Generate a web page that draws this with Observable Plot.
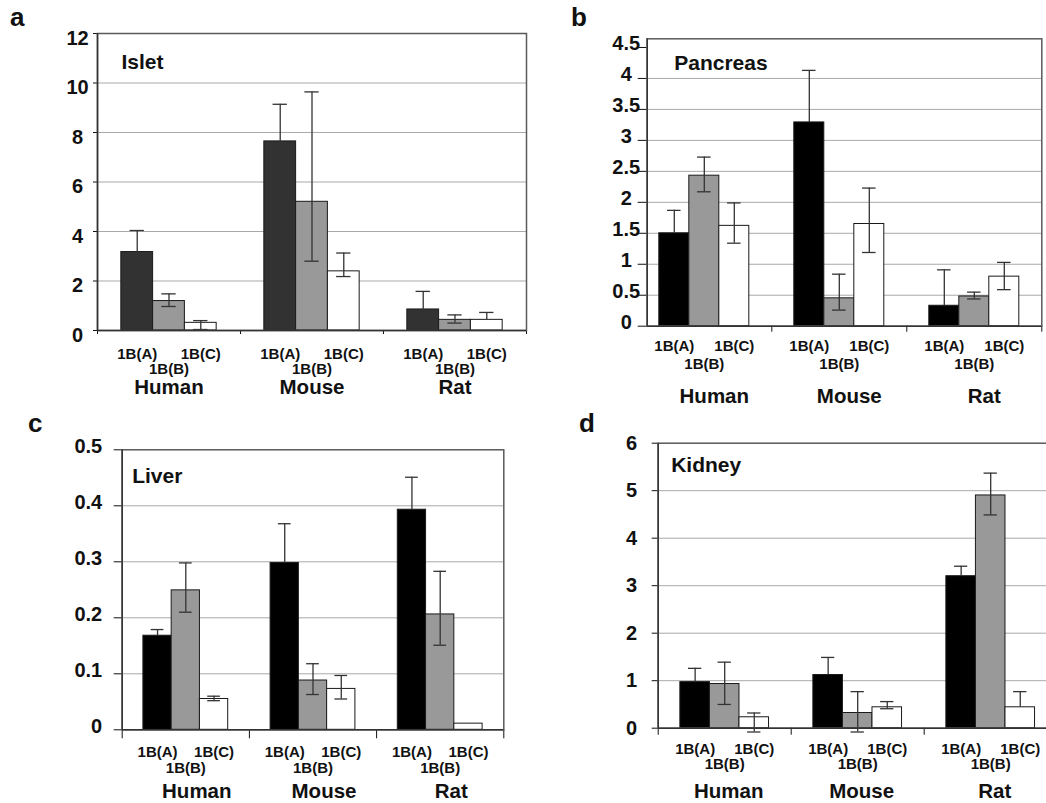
<!DOCTYPE html>
<html>
<head>
<meta charset="utf-8">
<script src="https://cdn.jsdelivr.net/npm/d3@7"></script>
<script src="https://cdn.jsdelivr.net/npm/@observablehq/plot@0.6"></script>
<style>
html, body { margin: 0; padding: 0; width: 1046px; height: 803px; overflow: hidden; background: #fff;
  font-family: "Liberation Sans", Arial, sans-serif; }
#root { position: relative; width: 1046px; height: 803px; overflow: hidden; }
.panel { position: absolute; }
.letter { position: absolute; font-weight: bold; font-size: 26px; line-height: 1; color: #111; }
</style>
</head>
<body>
<div id="root"></div>
<script>
// ---------- data ----------
const species = ["Human", "Mouse", "Rat"];
const isoforms = ["1B(A)", "1B(B)", "1B(C)"];

// a: Islet  (order: Human A,B,C, Mouse A,B,C, Rat A,B,C)
const isletMean = [3.17, 1.19, 0.31, 7.64, 5.20, 2.39, 0.85, 0.43, 0.43];
const isletLow  = [2.45, 0.97, 0.04, 6.31, 2.80, 2.18, 0.40, 0.30, 0.43];
const isletHigh = [4.04, 1.48, 0.40, 9.14, 9.64, 3.13, 1.58, 0.63, 0.73];
const isletTicks = [0, 2, 4, 6, 8, 10, 12];

// b: Pancreas (lower whiskers hidden inside black bars are not drawn)
const pancreasMean = [1.50, 2.43, 1.62, 3.29, 0.45, 1.65, 0.33, 0.48, 0.80];
const pancreasLow  = [1.50, 2.17, 1.34, 3.29, 0.26, 1.19, 0.33, 0.44, 0.59];
const pancreasHigh = [1.87, 2.73, 1.99, 4.13, 0.84, 2.23, 0.91, 0.55, 1.03];
const pancreasTicks = [0, 0.5, 1, 1.5, 2, 2.5, 3, 3.5, 4, 4.5];

// c: Liver
const liverMean = [0.168, 0.249, 0.055, 0.298, 0.088, 0.073, 0.393, 0.206, 0.011];
const liverLow  = [0.168, 0.210, 0.052, 0.298, 0.063, 0.055, 0.393, 0.151, 0.011];
const liverHigh = [0.179, 0.298, 0.060, 0.368, 0.118, 0.097, 0.451, 0.283, 0.011];
const liverTicks = [0, 0.1, 0.2, 0.3, 0.4, 0.5];

// d: Kidney
const kidneyMean = [0.97, 0.93, 0.23, 1.12, 0.32, 0.44, 3.20, 4.90, 0.44];
const kidneyLow  = [0.97, 0.50, -0.08, 1.12, -0.08, 0.41, 3.20, 4.49, 0.44];
const kidneyHigh = [1.26, 1.39, 0.32, 1.49, 0.77, 0.56, 3.41, 5.37, 0.77];
const kidneyTicks = [0, 1, 2, 3, 4, 5, 6];

// ---------- layout / style ----------
const panels = [
  { letter: "a", title: "Islet", mean: isletMean, low: isletLow, high: isletHigh, ticks: isletTicks,
    left: 0, top: 0, width: 540, height: 400, ml: 97, mr: 14, mt: 33, mb: 70, x0: 0, yMax: 12,
    colors: ["#323232", "#999999", "#ffffff"], tickSize: 4, xTickSize: 4,
    labAnchor: "middle", labDx: -20, labDy: 5, isoDy: [24, 38.5], spDy: 57, spDx: 0,
    titleDx: 24, titleDy: 21, letterPos: [10, 4] },
  { letter: "b", title: "Pancreas", mean: pancreasMean, low: pancreasLow, high: pancreasHigh, ticks: pancreasTicks,
    left: 520, top: 0, width: 526, height: 406, ml: 126.7, mr: 4.7, mt: 38.3, mb: 80.3, x0: 0.077, yMax: 4.64,
    colors: ["#000000", "#999999", "#ffffff"], tickSize: 9, xTickSize: 6,
    labAnchor: "middle", labDx: -21, labDy: -4, isoDy: [20, 38], spDy: 70, spDx: 10,
    titleDx: 27, titleDy: 16, letterPos: [571, 4] },
  { letter: "c", title: "Liver", mean: liverMean, low: liverLow, high: liverHigh, ticks: liverTicks,
    left: 0, top: 400, width: 520, height: 403, ml: 121.7, mr: 16.7, mt: 49.3, mb: 73.7, x0: 0, yMax: 0.5,
    colors: ["#000000", "#999999", "#ffffff"], tickSize: 8, xTickSize: 9,
    labAnchor: "end", labDx: -20, labDy: -3, isoDy: [22, 38], spDy: 62, spDx: 11,
    titleDx: 10, titleDy: 18, letterPos: [28, 410] },
  { letter: "d", title: "Kidney", mean: kidneyMean, low: kidneyLow, high: kidneyHigh, ticks: kidneyTicks,
    left: 520, top: 400, width: 540, height: 403, ml: 137.7, mr: 3.3, mt: 42.7, mb: 75.3, x0: 0, yMax: 6,
    colors: ["#000000", "#999999", "#ffffff"], tickSize: 6, xTickSize: 7,
    labAnchor: "end", labDx: -21, labDy: 0, isoDy: [21, 36], spDy: 63, spDx: 4,
    titleDx: 13, titleDy: 14, letterPos: [579, 410] }
];

const barW = 2 / 9, off = 1 / 6, cap = 0.05;
const cx = d => d.g + off + (d.k + 0.5) * barW;

const root = document.getElementById("root");

for (const p of panels) {
  const rows = species.flatMap((s, g) => isoforms.map((iso, k) => ({
    species: s, iso, g, k,
    mean: p.mean[g * 3 + k], low: p.low[g * 3 + k], high: p.high[g * 3 + k]
  })));
  const errRows = rows.filter(d => d.high > d.mean);
  const lowRows = rows.filter(d => d.low < d.mean);
  const grid = p.ticks.slice(1, -1);
  const xTicks = [0, 1, 2, 3].filter(t => t >= p.x0);
  const fmt = d => String(d);

  const chart = Plot.plot({
    width: p.width, height: p.height,
    marginLeft: p.ml, marginRight: p.mr, marginTop: p.mt, marginBottom: p.mb,
    style: "background:none;max-width:none;overflow:visible;font-family:'Liberation Sans',Arial,sans-serif;font-size:14px;color:#111",
    x: { type: "linear", domain: [p.x0, 3], ticks: xTicks, tickSize: p.xTickSize, tickFormat: () => "", label: null },
    y: { domain: [0, p.yMax], ticks: p.ticks, tickSize: p.tickSize, tickFormat: () => "", label: null },
    color: { domain: isoforms, range: p.colors },
    marks: [
      Plot.ruleY(grid, { stroke: "#a9a9a9", strokeWidth: 1 }),
      Plot.rect(rows, {
        x1: d => d.g + off + d.k * barW, x2: d => d.g + off + (d.k + 1) * barW,
        y1: () => 0, y2: "mean", fill: "iso", stroke: "#1a1a1a", strokeWidth: 1
      }),
      Plot.ruleX(errRows, { x: cx, y1: d => d.low, y2: "high", stroke: "#333", strokeWidth: 1.3 }),
      Plot.ruleY(errRows, { y: "high", x1: d => cx(d) - cap, x2: d => cx(d) + cap, stroke: "#333", strokeWidth: 1.3 }),
      Plot.ruleY(lowRows, { y: "low", x1: d => cx(d) - cap, x2: d => cx(d) + cap, stroke: "#333", strokeWidth: 1.3 }),
      Plot.frame({ stroke: "#5a5a5a", strokeWidth: 1.5 }),
      Plot.ruleX([p.x0], { stroke: "#333", strokeWidth: 1.5 }),
      Plot.ruleY([0], { stroke: "#333", strokeWidth: 1.5 }),
      Plot.text(p.ticks, {
        y: d => d, text: fmt, frameAnchor: "left", dx: p.labDx, dy: p.labDy,
        textAnchor: p.labAnchor, fontSize: 20, fontWeight: "bold", fill: "#111"
      }),
      Plot.text(rows.filter(d => d.k !== 1), {
        x: cx, y: () => 0, text: "iso", dy: p.isoDy[0], fontSize: 15, fontWeight: "bold", fill: "#111"
      }),
      Plot.text(rows.filter(d => d.k === 1), {
        x: cx, y: () => 0, text: "iso", dy: p.isoDy[1], fontSize: 15, fontWeight: "bold", fill: "#111"
      }),
      Plot.text(species, {
        x: (d, i) => i + 0.5, y: () => 0, text: d => d, dx: p.spDx, dy: p.spDy,
        fontSize: 20.5, fontWeight: "bold", fill: "#111"
      }),
      Plot.text([p.title], {
        frameAnchor: "top-left", text: d => d, dx: p.titleDx, dy: p.titleDy,
        textAnchor: "start", lineAnchor: "top", fontSize: 21, fontWeight: "bold", fill: "#111"
      })
    ]
  });

  const div = document.createElement("div");
  div.className = "panel";
  div.style.left = p.left + "px";
  div.style.top = p.top + "px";
  div.appendChild(chart);
  root.appendChild(div);

  const lt = document.createElement("div");
  lt.className = "letter";
  lt.textContent = p.letter;
  lt.style.left = p.letterPos[0] + "px";
  lt.style.top = p.letterPos[1] + "px";
  root.appendChild(lt);
}
</script>
</body>
</html>
